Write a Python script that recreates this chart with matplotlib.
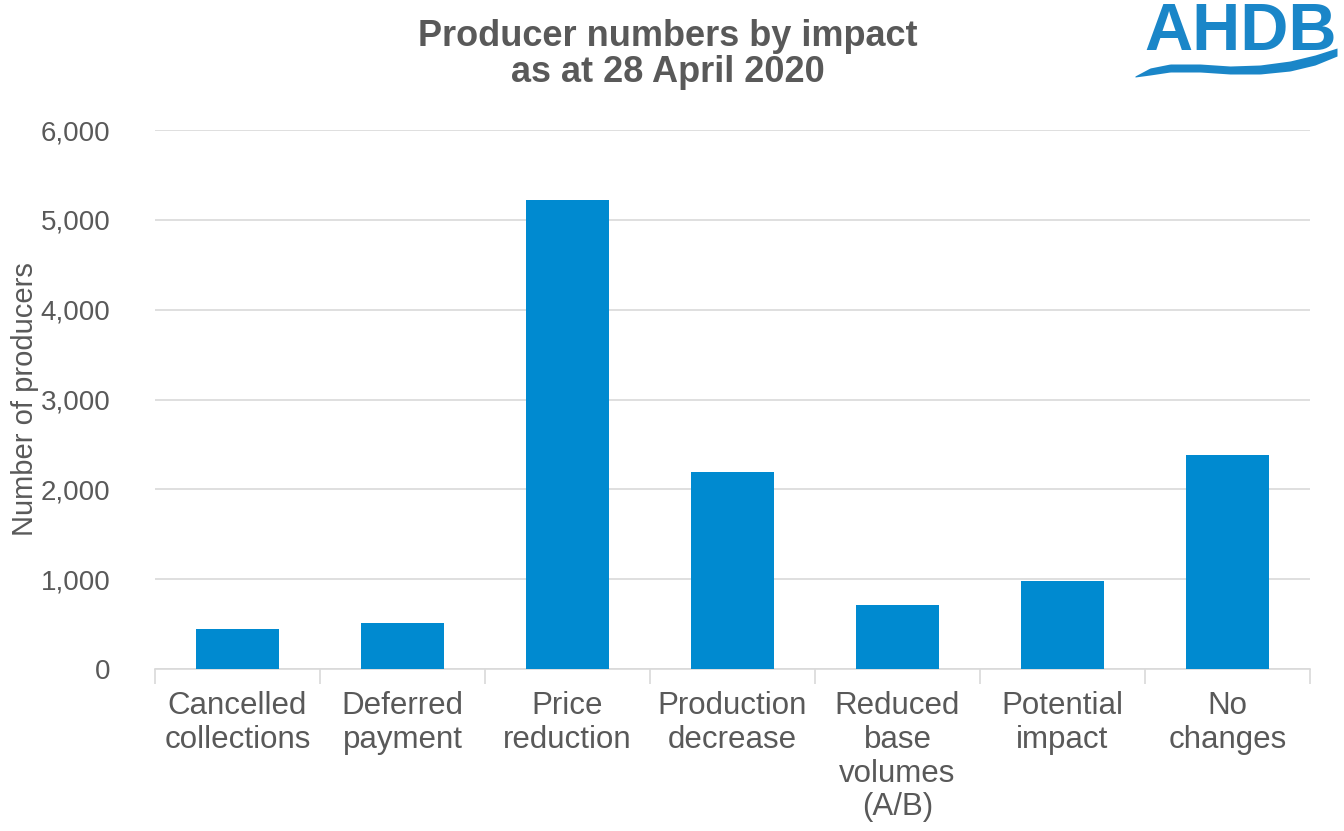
import matplotlib
matplotlib.use("Agg")
import matplotlib.pyplot as plt
import numpy as np

plt.rcParams['font.family'] = ['Liberation Sans', 'DejaVu Sans']

# data
categories = ["Cancelled\ncollections", "Deferred\npayment", "Price\nreduction",
              "Production\ndecrease", "Reduced\nbase\nvolumes\n(A/B)",
              "Potential\nimpact", "No\nchanges"]
producers = [450, 510, 5220, 2190, 710, 980, 2380]
y_ticks = [0, 1000, 2000, 3000, 4000, 5000, 6000]

bar_color = "#008AD0"
text_grey = "#595959"
grid_grey = "#D9D9D9"

W, H = 1344, 831
fig = plt.figure(figsize=(W / 100, H / 100), dpi=100)
ax = fig.add_axes([155 / W, 1 - 669 / H, 1155 / W, 539 / H])

x = np.arange(len(categories))
ax.bar(x, producers, width=0.5, color=bar_color, zorder=3)

ax.set_xlim(-0.5, len(categories) - 0.5)
ax.set_ylim(0, 6000)
ax.set_yticks(y_ticks)
ax.set_yticklabels(["{:,}".format(v) for v in y_ticks])
ax.grid(axis='y', color=grid_grey, linewidth=1.2, zorder=0)

# category labels centred, tick marks between categories
ax.set_xticks(x)
ax.set_xticklabels(categories, fontsize=22.5, color=text_grey, linespacing=1.16)
ax.tick_params(axis='x', length=0, pad=16)
ax.set_xticks(np.arange(-0.5, len(categories)), minor=True)
ax.tick_params(axis='x', which='minor', length=11, color=grid_grey, width=1.2)
ax.tick_params(axis='y', length=0, labelsize=20, labelcolor=text_grey, pad=32)

for s in ['top', 'right', 'left']:
    ax.spines[s].set_visible(False)
ax.spines['bottom'].set_color(grid_grey)
ax.spines['bottom'].set_linewidth(1.2)

ax.set_ylabel("Number of producers", fontsize=21, color=text_grey, va='center')
ax.yaxis.set_label_coords(-130 / 1155, 0.5)

fig.text(668 / W, 1 - 36 / H, "Producer numbers by impact", ha='center', va='center',
         fontsize=26, fontweight='bold', color=text_grey)
fig.text(668 / W, 1 - 73 / H, "as at 28 April 2020", ha='center', va='center',
         fontsize=26, fontweight='bold', color=text_grey)

# AHDB logo approximation
logo_blue = "#1A86C8"
fig.text(1241 / W, 1 - 50 / H, "AHDB", ha='center', va='baseline', fontsize=48,
         fontweight='bold', color=logo_blue)
lax = fig.add_axes([1130 / W, 1 - 90 / H, 214 / W, 50 / H])
lax.set_xlim(1130, 1344)
lax.set_ylim(90, 40)
lax.axis('off')
wave_x = [1135, 1150, 1170, 1200, 1230, 1260, 1290, 1315, 1337]
wave_top = [76, 68, 64, 64, 66, 65, 61, 55, 48]
wave_bot = [77, 75, 72, 72, 74, 74, 71, 65, 56]
wx = np.linspace(1135, 1337, 120)
lax.fill_between(wx, np.interp(wx, wave_x, wave_top), np.interp(wx, wave_x, wave_bot),
                 color=logo_blue, lw=0)

fig.savefig("out.png", dpi=100)
